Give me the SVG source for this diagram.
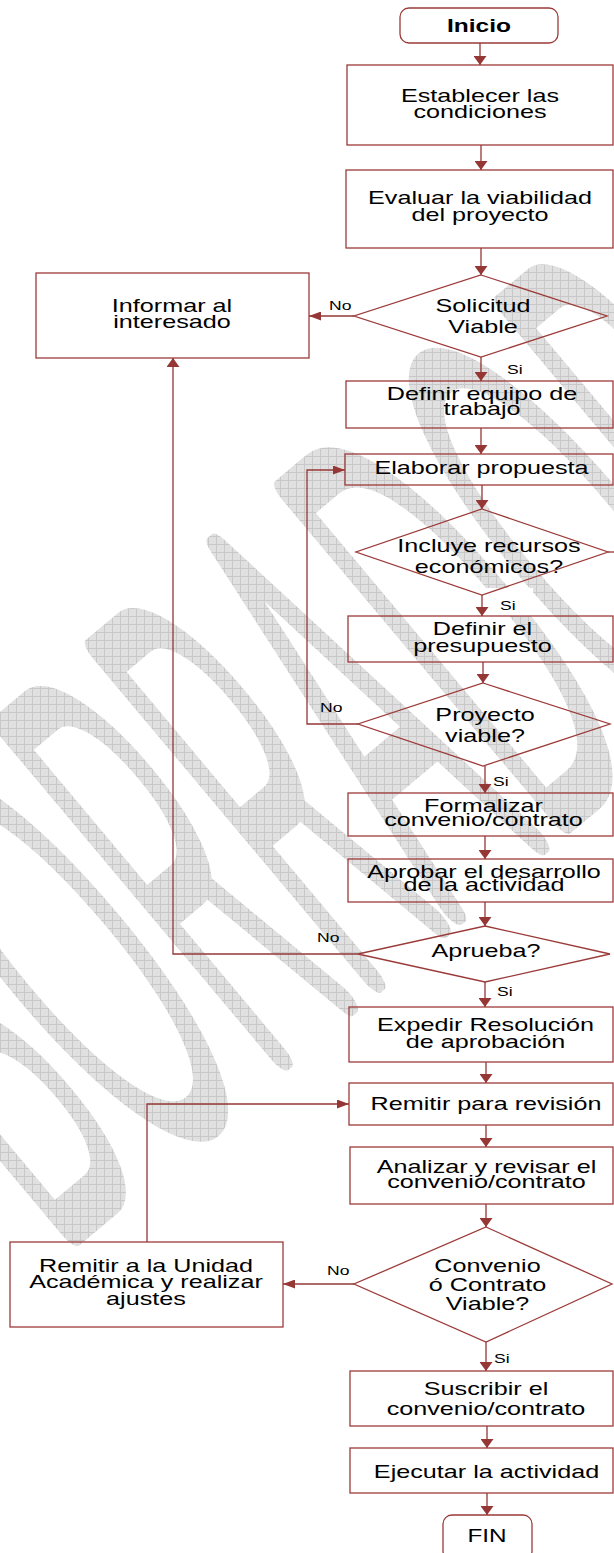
<svg xmlns="http://www.w3.org/2000/svg" width="614" height="1553" viewBox="0 0 614 1553">
<style>
.n{fill:none;stroke:#9b3b39;stroke-width:1.3}
.c{fill:none;stroke:#953735;stroke-width:1.3}
.t{font-family:"Liberation Sans",Arial,sans-serif;font-size:18px;fill:#000;text-anchor:middle}
.l{font-family:"Liberation Sans",Arial,sans-serif;font-size:13.5px;fill:#000}
</style>
<defs>
<marker id="av" markerUnits="userSpaceOnUse" markerWidth="9" markerHeight="13" refX="9" refY="6.5" orient="auto"><path d="M0,0 L9,6.5 L0,13 Z" fill="#953735"/></marker>
<marker id="ah" markerUnits="userSpaceOnUse" markerWidth="12" markerHeight="9" refX="12" refY="4.5" orient="auto"><path d="M0,0 L12,4.5 L0,9 Z" fill="#953735"/></marker>
<pattern id="grid" patternUnits="userSpaceOnUse" width="8" height="8"><rect width="8" height="8" fill="#e0e0e0"/><path d="M0,0.5H8M0.5,0V8" stroke="#c8c8c8" stroke-width="1"/></pattern>
<mask id="wm" maskUnits="userSpaceOnUse" x="0" y="0" width="614" height="1553">
<text x="0" y="36" font-family="Inter,'DejaVu Sans',sans-serif" font-weight="100" font-size="100" text-anchor="middle" textLength="1050" lengthAdjust="spacingAndGlyphs" fill="#fff" stroke="#fff" stroke-width="27" stroke-linejoin="round" stroke-linecap="round" vector-effect="non-scaling-stroke" transform="translate(318,748) rotate(-40) scale(1,5.8)">BORRADOR</text>
</mask>
</defs>
<g id="watermark"><rect x="0" y="0" width="614" height="1553" fill="url(#grid)" mask="url(#wm)"/></g>
<g id="patches" fill="#fff"><rect x="487" y="588" width="46" height="28"/><rect x="603" y="588" width="11" height="19"/></g>

<g id="connectors">
<path class="c" d="M480,43V65" marker-end="url(#av)"/>
<path class="c" d="M481,145V170" marker-end="url(#av)"/>
<path class="c" d="M481,248V275" marker-end="url(#av)"/>
<path class="c" d="M354,316H309" marker-end="url(#ah)"/>
<path class="c" d="M481,357V381" marker-end="url(#av)"/>
<path class="c" d="M481,428V454" marker-end="url(#av)"/>
<path class="c" d="M482,485V509" marker-end="url(#av)"/>
<path class="c" d="M482,595V616" marker-end="url(#av)"/>
<path class="c" d="M608,552H614"/>
<path class="c" d="M483,662V683" marker-end="url(#av)"/>
<path class="c" d="M358,724H307V470H345" marker-end="url(#ah)"/>
<path class="c" d="M485,766V793" marker-end="url(#av)"/>
<path class="c" d="M485,836V859" marker-end="url(#av)"/>
<path class="c" d="M485,902V926" marker-end="url(#av)"/>
<path class="c" d="M358,954H173V358" marker-end="url(#av)"/>
<path class="c" d="M485,982V1007" marker-end="url(#av)"/>
<path class="c" d="M486,1062V1083" marker-end="url(#av)"/>
<path class="c" d="M486,1125V1147" marker-end="url(#av)"/>
<path class="c" d="M486,1204V1227" marker-end="url(#av)"/>
<path class="c" d="M354,1284H283" marker-end="url(#ah)"/>
<path class="c" d="M147,1242V1104H349" marker-end="url(#ah)"/>
<path class="c" d="M486,1342V1371" marker-end="url(#av)"/>
<path class="c" d="M487,1426V1448" marker-end="url(#av)"/>
<path class="c" d="M487,1493V1515" marker-end="url(#av)"/>
<text class="l" transform="matrix(1.3 0 0 1 329 0)" y="310">No</text>
<text class="l" transform="matrix(1.3 0 0 1 507 0)" y="374">Si</text>
<text class="l" transform="matrix(1.3 0 0 1 500 0)" y="610">Si</text>
<text class="l" transform="matrix(1.3 0 0 1 320 0)" y="712">No</text>
<text class="l" transform="matrix(1.3 0 0 1 493 0)" y="786">Si</text>
<text class="l" transform="matrix(1.3 0 0 1 317 0)" y="942">No</text>
<text class="l" transform="matrix(1.3 0 0 1 497 0)" y="996">Si</text>
<text class="l" transform="matrix(1.3 0 0 1 327 0)" y="1275">No</text>
<text class="l" transform="matrix(1.3 0 0 1 494 0)" y="1363">Si</text>
</g>

<g id="n0"><rect class="n" x="400" y="8" width="158" height="35" rx="9"/><text class="t" style="font-weight:bold;font-size:19px" transform="matrix(1.29 0 0 1 479 0)" y="32">Inicio</text></g>
<g id="n1"><rect class="n" x="347" y="65" width="266" height="80"/><text class="t" transform="matrix(1.4 0 0 1 480 0)"><tspan x="0" y="102">Establecer las</tspan><tspan x="0" y="118">condiciones</tspan></text></g>
<g id="n2"><rect class="n" x="346" y="170" width="267" height="78"/><text class="t" transform="matrix(1.4 0 0 1 480 0)"><tspan x="0" y="204">Evaluar la viabilidad</tspan><tspan x="0" y="221">del proyecto</tspan></text></g>
<g id="n3"><polygon class="n" points="481,275 607,316 481,357 354,316"/><text class="t" transform="matrix(1.4 0 0 1 483 0)"><tspan x="0" y="312">Solicitud</tspan><tspan x="0" y="333">Viable</tspan></text></g>
<g id="n4"><rect class="n" x="36" y="273" width="273" height="85"/><text class="t" transform="matrix(1.4 0 0 1 172 0)"><tspan x="0" y="312">Informar al</tspan><tspan x="0" y="328">interesado</tspan></text></g>
<g id="n5"><rect class="n" x="346" y="381" width="267" height="47"/><text class="t" transform="matrix(1.4 0 0 1 482 0)"><tspan x="0" y="400">Definir equipo de</tspan><tspan x="0" y="415">trabajo</tspan></text></g>
<g id="n6"><rect class="n" x="345" y="454" width="268" height="31"/><text class="t" transform="matrix(1.4 0 0 1 481.5 0)" y="474">Elaborar propuesta</text></g>
<g id="n7"><polygon class="n" points="482,509 608,552 482,595 356,552"/><text class="t" transform="matrix(1.4 0 0 1 489 0)"><tspan x="0" y="552">Incluye recursos</tspan><tspan x="0" y="573">económicos?</tspan></text></g>
<g id="n8"><rect class="n" x="348" y="616" width="265" height="46"/><text class="t" transform="matrix(1.4 0 0 1 482.5 0)"><tspan x="0" y="635">Definir el</tspan><tspan x="0" y="652">presupuesto</tspan></text></g>
<g id="n9"><polygon class="n" points="483,683 610,724 483,766 358,724"/><text class="t" transform="matrix(1.4 0 0 1 485 0)"><tspan x="0" y="721">Proyecto</tspan><tspan x="0" y="742">viable?</tspan></text></g>
<g id="n10"><rect class="n" x="348" y="793" width="265" height="43"/><text class="t" transform="matrix(1.4 0 0 1 483.5 0)"><tspan x="0" y="812">Formalizar</tspan><tspan x="0" y="826">convenio/contrato</tspan></text></g>
<g id="n11"><rect class="n" x="348" y="859" width="265" height="43"/><text class="t" transform="matrix(1.4 0 0 1 484 0)"><tspan x="0" y="878">Aprobar el desarrollo</tspan><tspan x="0" y="891">de la actividad</tspan></text></g>
<g id="n12"><polygon class="n" points="485,926 610,954 485,982 358,954"/><text class="t" transform="matrix(1.4 0 0 1 486 0)" y="957">Aprueba?</text></g>
<g id="n13"><rect class="n" x="349" y="1007" width="264" height="55"/><text class="t" transform="matrix(1.4 0 0 1 485.5 0)"><tspan x="0" y="1031">Expedir Resolución</tspan><tspan x="0" y="1048">de aprobación</tspan></text></g>
<g id="n14"><rect class="n" x="349" y="1083" width="264" height="42"/><text class="t" transform="matrix(1.4 0 0 1 486 0)" y="1110">Remitir para revisión</text></g>
<g id="n15"><rect class="n" x="350" y="1147" width="263" height="57"/><text class="t" transform="matrix(1.4 0 0 1 486.5 0)"><tspan x="0" y="1173">Analizar y revisar el</tspan><tspan x="0" y="1188">convenio/contrato</tspan></text></g>
<g id="n16"><polygon class="n" points="486,1227 612,1284 486,1342 354,1284"/><text class="t" transform="matrix(1.4 0 0 1 487.5 0)"><tspan x="0" y="1272">Convenio</tspan><tspan x="0" y="1291">ó Contrato</tspan><tspan x="0" y="1310">Viable?</tspan></text></g>
<g id="n17"><rect class="n" x="10" y="1242" width="273" height="85"/><text class="t" transform="matrix(1.4 0 0 1 146 0)"><tspan x="0" y="1272">Remitir a la Unidad</tspan><tspan x="0" y="1288">Académica y realizar</tspan><tspan x="0" y="1305">ajustes</tspan></text></g>
<g id="n18"><rect class="n" x="350" y="1371" width="263" height="55"/><text class="t" transform="matrix(1.4 0 0 1 486 0)"><tspan x="0" y="1395">Suscribir el</tspan><tspan x="0" y="1415">convenio/contrato</tspan></text></g>
<g id="n19"><rect class="n" x="350" y="1448" width="263" height="45"/><text class="t" transform="matrix(1.4 0 0 1 486.5 0)" y="1478">Ejecutar la actividad</text></g>
<g id="n20"><rect class="n" x="443" y="1515" width="89" height="45" rx="9"/><text class="t" transform="matrix(1.35 0 0 1 487 0)" y="1542">FIN</text></g>
</svg>
